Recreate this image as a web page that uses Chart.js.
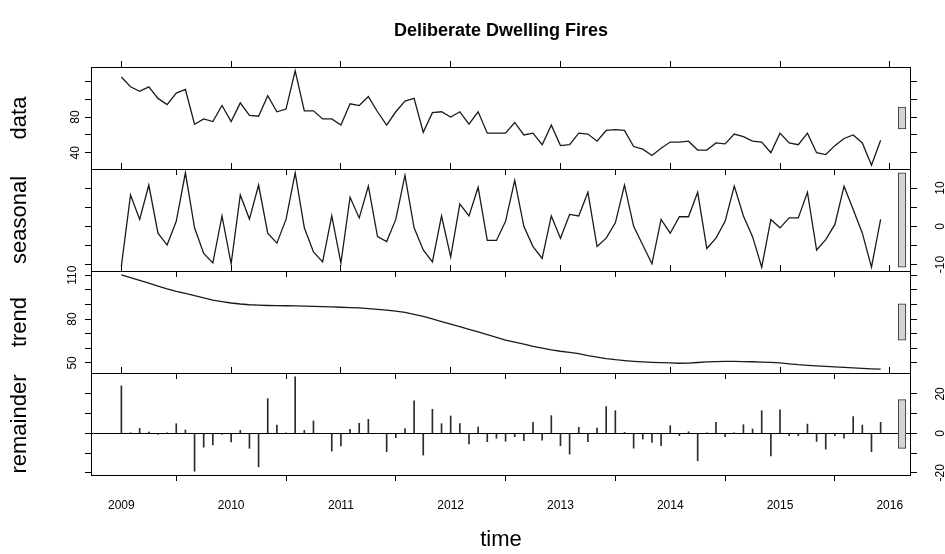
<!DOCTYPE html>
<html>
<head>
<meta charset="utf-8">
<title>Deliberate Dwelling Fires</title>
<script src="https://cdn.jsdelivr.net/npm/chart.js@4.4.1/dist/chart.umd.min.js"></script>
<style>
    body { margin: 0; background: #fff; }
    #wrap { position: relative; width: 945px; height: 554px; }
    #wrap canvas { position: absolute; left: 0; top: 0; }
</style>
</head>
<body>
<div id="wrap">
    <canvas id="p0" width="945" height="554"></canvas>
    <canvas id="p1" width="945" height="554"></canvas>
    <canvas id="p2" width="945" height="554"></canvas>
    <canvas id="p3" width="945" height="554"></canvas>
</div>
<script>
// monthly series, Jan 2009 - Dec 2015
const startYear = 2009;
const frequency = 12;

const dataValues = [
    125, 114, 109, 114, 101, 94, 107, 111, 72, 78, 75, 93,
    75, 96, 82, 81, 104, 86, 89, 132, 87, 87, 78, 78,
    71, 95, 93, 103, 86, 71, 86, 98, 101, 63, 85, 86,
    80, 86, 72, 86, 62, 62, 62, 74, 60, 62, 49, 71,
    48, 49, 62, 61, 53, 65, 66, 65, 47, 44, 37, 45,
    52, 52, 53, 43, 43, 51, 50, 61, 58, 53, 52, 40,
    62, 51, 49, 62, 40, 38, 48, 56, 60, 51, 26, 54
];

const seasonalValues = [
    -10.4, 8.2, 1.8, 10.8, -1.8, -4.9, 1.3, 14.0, -0.4, -7.1, -9.6, 2.7,
    -9.8, 8.2, 1.9, 10.8, -1.8, -4.4, 1.8, 14.0, -0.4, -6.7, -9.3, 2.7,
    -9.6, 7.6, 2.2, 10.5, -2.7, -4.0, 1.8, 13.3, -0.4, -6.2, -9.3, 2.7,
    -8.0, 5.8, 2.7, 10.2, -3.7, -3.7, 1.3, 12.0, 0.0, -5.3, -8.4, 2.7,
    -3.1, 3.1, 2.7, 8.9, -5.3, -3.1, 0.9, 10.8, 0.0, -4.9, -9.8, 1.8,
    -1.8, 2.5, 2.5, 8.9, -5.8, -3.1, 1.3, 10.5, 2.7, -2.7, -10.7, 1.8,
    -0.4, 2.2, 2.2, 8.9, -6.2, -3.5, 0.5, 10.5, 4.4, -1.8, -10.7, 1.8
];

const trendValues = [
    110.3, 108.4, 106.5, 104.6, 102.6, 100.7, 99.0, 97.5, 96.0, 94.5, 93.0, 92.0,
    91.0, 90.3, 89.8, 89.5, 89.3, 89.2, 89.1, 89.0, 88.9, 88.7, 88.5, 88.3,
    88.1, 87.9, 87.6, 87.2, 86.7, 86.1, 85.5, 84.6, 83.2, 81.8, 80.1, 78.3,
    76.6, 74.8, 73.0, 71.3, 69.4, 67.5, 65.6, 64.2, 62.8, 61.4, 60.2, 59.0,
    58.0, 57.2, 56.3, 55.0, 54.0, 53.0, 52.2, 51.6, 51.1, 50.7, 50.4, 50.2,
    50.0, 49.8, 49.9, 50.3, 50.7, 50.9, 51.0, 51.0, 50.9, 50.8, 50.6, 50.4,
    50.0, 49.4, 48.8, 48.4, 48.0, 47.6, 47.3, 47.0, 46.6, 46.3, 46.0, 45.7
];

const remainderValues = [
    24.1, 0.3, 2.5, 0.7, -0.5, 0.3, 4.9, 1.7, -19.2, -7.0, -5.9, -0.5,
    -4.4, 1.5, -7.6, -17.0, 17.6, 4.2, 0.3, 28.7, 1.5, 6.3, 0.0, -9.0,
    -6.4, 2.0, 5.1, 7.1, 0.0, -9.3, -2.2, 2.4, 16.5, -11.0, 12.2, 4.9,
    8.8, 4.9, -5.3, 3.2, -4.2, -2.5, -4.0, -1.7, -3.7, 5.6, -3.4, 9.0,
    -6.3, -10.5, 3.1, -4.2, 2.7, 13.6, 11.5, 0.5, -7.5, -2.9, -4.6, -6.3,
    3.9, -1.2, 0.8, -13.9, 0.3, 5.6, -1.7, 0.3, 4.4, 2.2, 11.5, -11.4,
    11.9, -1.2, -1.2, 4.7, -4.1, -8.0, -1.2, -2.5, 8.5, 4.2, -9.3, 5.6
];

const yearTicks = [2009, 2010, 2011, 2012, 2013, 2014, 2015, 2016];
const dataTicks = [40, 60, 80, 100, 120];
const dataTickLabels = [40, 80];
const seasonalTicks = [-10, -5, 0, 5, 10];
const seasonalTickLabels = [-10, 0, 10];
const trendTicks = [50, 60, 70, 80, 90, 100, 110];
const trendTickLabels = [50, 80, 110];
const remainderTicks = [-20, -10, 0, 10, 20];
const remainderTickLabels = [-20, 0, 20];

// ---- layout
const W = 945, H = 554;
const LEFT_W = 91, RIGHT_W = 34;
const panelTop = [67, 169, 271, 373];
const panelH = 102;

Chart.defaults.font.family = '"Liberation Sans", Arial, Helvetica, sans-serif';
Chart.defaults.color = '#000';

const times = dataValues.map((_, i) => startYear + i / frequency);
const tFirst = times[0], tLast = times[times.length - 1];
const xMin = tFirst - 0.04 * (tLast - tFirst);
const xMax = tLast + 0.04 * (tLast - tFirst);

function rangeOf(arr) {
    return [Math.min(...arr), Math.max(...arr)];
}

const panels = [
    { name: 'data', values: dataValues, ticks: dataTicks, labels: dataTickLabels, right: false, kind: 'line' },
    { name: 'seasonal', values: seasonalValues, ticks: seasonalTicks, labels: seasonalTickLabels, right: true, kind: 'line' },
    { name: 'trend', values: trendValues, ticks: trendTicks, labels: trendTickLabels, right: false, kind: 'line' },
    { name: 'remainder', values: remainderValues, ticks: remainderTicks, labels: remainderTickLabels, right: true, kind: 'spike' }
];

// grey range bars: same height (smallest panel range) in every panel
const barHeight = Math.min(...panels.map(p => { const r = rangeOf(p.values); return r[1] - r[0]; }));
const dxBar = (xMax - xMin) / 64;
const barX = xMax - 0.7 * dxBar;
const barPx = 0.6 / 64 * (W - LEFT_W - RIGHT_W);

const boxPlugin = {
    id: 'panelBox',
    afterDraw(chart) {
        const { ctx, chartArea: a } = chart;
        ctx.save();
        ctx.strokeStyle = '#000';
        ctx.lineWidth = 1;
        ctx.strokeRect(a.left + 0.5, a.top + 0.5, a.right - a.left - 1, a.bottom - a.top);
        ctx.restore();
    }
};

function tickGrid(extra) {
    return Object.assign({
        drawOnChartArea: false,
        drawTicks: true,
        tickLength: 6,
        color: '#000',
        tickColor: '#000',
        lineWidth: 1
    }, extra || {});
}

function makePanel(idx) {
    const p = panels[idx];
    const isFirst = idx === 0, isLast = idx === panels.length - 1;
    const top = panelTop[idx];
    const bottom = top + panelH;
    const r = rangeOf(p.values);
    const pad = 0.04 * (r[1] - r[0]);
    const yMin = r[0] - pad, yMax = r[1] + pad;
    const mid = (r[0] + r[1]) / 2;

    const points = p.values.map((v, i) => ({ x: times[i], y: v }));
    const datasets = [];
    if (p.kind === 'line') {
        datasets.push({
            type: 'line',
            data: points,
            borderColor: '#1a1a1a',
            borderWidth: 1.3,
            pointRadius: 0,
            tension: 0,
            fill: false
        });
    } else {
        datasets.push({
            type: 'bar',
            data: points,
            backgroundColor: '#2a2a2a',
            barThickness: 1,
            grouped: false
        });
    }
    datasets.push({
        type: 'bar',
        data: [{ x: barX, y: [mid - barHeight / 2, mid + barHeight / 2] }],
        backgroundColor: '#d3d3d3',
        borderColor: '#333',
        borderWidth: 1,
        borderSkipped: false,
        barThickness: barPx,
        grouped: false
    });

    const yTickCfg = (show, padding) => ({
        display: show,
        autoSkip: false,
        minRotation: 90,
        maxRotation: 90,
        crossAlign: 'center',
        padding: padding,
        font: { size: 12 },
        color: '#000',
        callback: v => p.labels.includes(v) ? String(v) : ''
    });
    const setTicks = list => scale => { scale.ticks = list.map(v => ({ value: v })); };

    new Chart(document.getElementById('p' + idx), {
        type: 'line',
        data: { datasets: datasets },
        options: {
            responsive: false,
            animation: false,
            events: [],
            layout: {
                padding: {
                    left: 0,
                    right: 0,
                    top: isFirst ? 0 : top,
                    bottom: isLast ? 0 : H - bottom
                }
            },
            plugins: {
                legend: { display: false },
                tooltip: { enabled: false },
                title: {
                    display: isFirst,
                    fullSize: false,
                    text: 'Deliberate Dwelling Fires',
                    color: '#000',
                    font: { size: 18, weight: 'bold' },
                    padding: { top: 20, bottom: 67 - 20 - 18 * 1.2 }
                }
            },
            scales: {
                x: {
                    type: 'linear',
                    position: 'bottom',
                    min: xMin,
                    max: xMax,
                    offset: false,
                    afterBuildTicks: setTicks(yearTicks),
                    afterFit: s => { s.height = isLast ? H - bottom : 0; },
                    ticks: {
                        display: isLast,
                        autoSkip: false,
                        maxRotation: 0,
                        padding: 17,
                        font: { size: 12 },
                        color: '#000',
                        callback: v => String(v)
                    },
                    grid: tickGrid(),
                    border: { display: false },
                    title: {
                        display: isLast,
                        text: 'time',
                        color: '#000',
                        font: { size: 22 },
                        padding: { top: 0, bottom: 1 }
                    }
                },
                xTop: {
                    type: 'linear',
                    position: 'top',
                    min: xMin,
                    max: xMax,
                    afterBuildTicks: setTicks(yearTicks),
                    afterFit: s => { s.height = 0; },
                    ticks: { display: false },
                    grid: tickGrid(),
                    border: { display: false }
                },
                y: {
                    type: 'linear',
                    position: 'left',
                    min: yMin,
                    max: yMax,
                    afterBuildTicks: setTicks(p.ticks),
                    afterFit: s => { s.width = LEFT_W; },
                    ticks: yTickCfg(!p.right, 3),
                    grid: tickGrid(),
                    border: { display: false },
                    title: {
                        display: true,
                        text: p.name,
                        color: '#000',
                        font: { size: 22 },
                        padding: { top: 7, bottom: 0 }
                    }
                },
                yRight: {
                    type: 'linear',
                    position: 'right',
                    min: yMin,
                    max: yMax,
                    afterBuildTicks: setTicks(p.ticks),
                    afterFit: s => { s.width = RIGHT_W; },
                    ticks: yTickCfg(p.right, 15),
                    grid: p.kind === 'spike'
                        ? tickGrid({ drawOnChartArea: true, color: c => (c.tick && c.tick.value === 0) ? '#000' : 'rgba(0,0,0,0)' })
                        : tickGrid(),
                    border: { display: false }
                }
            }
        },
        plugins: [boxPlugin]
    });
}

panels.forEach((_, i) => makePanel(i));
</script>
</body>
</html>
